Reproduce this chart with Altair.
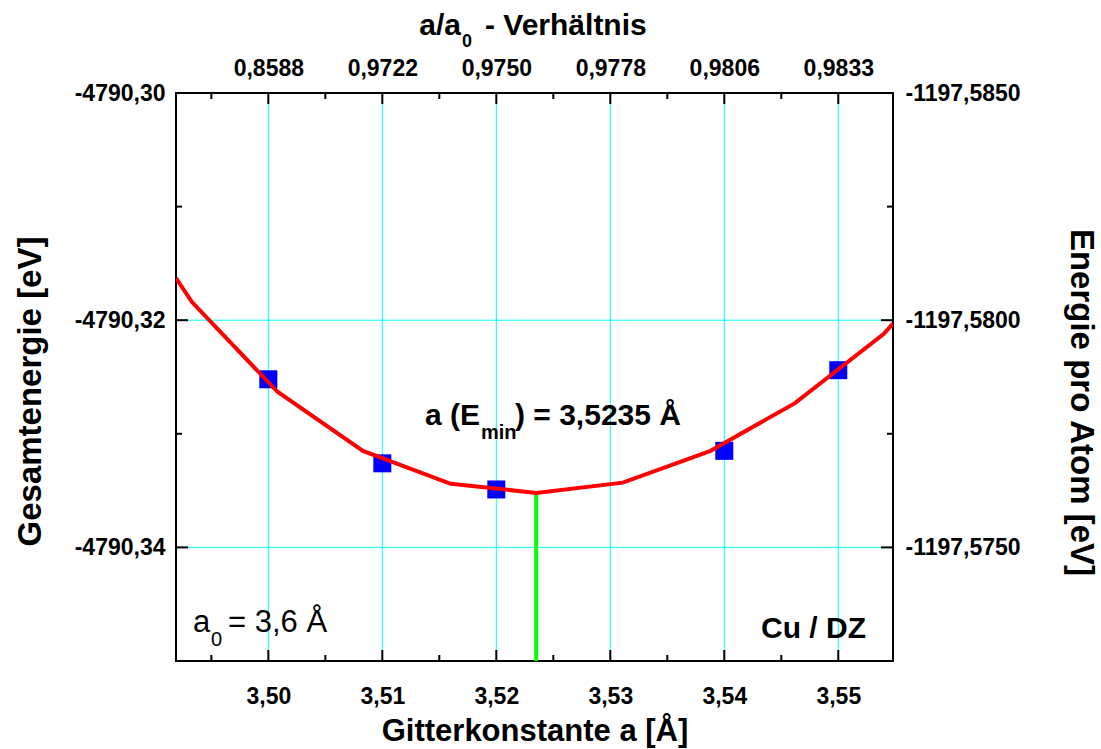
import altair as alt
import pandas as pd

# computed cells: lattice constant [Å] and total energy [eV]
lattice = [3.50, 3.51, 3.52, 3.54, 3.55]
energy = [-4790.3252, -4790.3326, -4790.3349, -4790.3315, -4790.3244]

# fitted energy curve (vertices)
fit_a = [3.4919, 3.4933, 3.5008, 3.5083, 3.5160, 3.5235, 3.5311, 3.5388, 3.5462, 3.5540, 3.5548]
fit_e = [-4790.3163, -4790.3184, -4790.3263, -4790.3315, -4790.3344, -4790.3352,
         -4790.3343, -4790.3315, -4790.3273, -4790.3212, -4790.3203]

# minimum of the fit
a_min = 3.5235
e_min = -4790.3352

# axis ticks and labels
x_major = [3.50, 3.51, 3.52, 3.53, 3.54, 3.55]
x_minor = [3.495, 3.505, 3.515, 3.525, 3.535, 3.545]
ratio_labels = ["0,8588", "0,9722", "0,9750", "0,9778", "0,9806", "0,9833"]
y_major = [-4790.34, -4790.32, -4790.30]
y_minor = [-4790.33, -4790.31]
atom_major = [-1197.5850, -1197.5800, -1197.5750]

x_domain = [3.4919, 3.5548]
y_domain = [-4790.35, -4790.30]
atom_domain = [-1197.5850, -1197.5725]

W, H = 717, 568
FONT = "Liberation Sans"
GRID = "#00ffff"

x_scale = alt.Scale(domain=x_domain, nice=False, zero=False)
y_scale = alt.Scale(domain=y_domain, nice=False, zero=False)
atom_scale = alt.Scale(domain=atom_domain, nice=False, zero=False, reverse=True)

common_axis = dict(
    ticks=False, tickSize=0, domain=False, grid=False, labelFont=FONT, labelFontWeight="bold",
    labelFontSize=23, labelColor="black", labelFlush=False, labelOverlap=False,
    titleFont=FONT, titleFontWeight="bold", titleColor="black",
)

bottom_axis = alt.Axis(
    orient="bottom", values=x_major,
    labelExpr="replace(format(datum.value, '.2f'), '.', ',')",
    labelBaseline="alphabetic", labelPadding=42,
    title="Gitterkonstante a [Å]", titleFontSize=31, titleX=W / 2, titleY=79,
    titleAlign="center", titleBaseline="alphabetic", **common_axis,
)
left_axis = alt.Axis(
    orient="left", values=y_major,
    labelExpr="'-' + replace(format(-datum.value, '.2f'), '.', ',')",
    labelPadding=11,
    title="Gesamtenergie [eV]", titleFontSize=33, titleAngle=270, titleX=-146, titleY=298,
    titleAlign="center", titleBaseline="middle", **common_axis,
)
ratio_array = "[" + ",".join("'" + s + "'" for s in ratio_labels) + "]"
top_axis = alt.Axis(
    orient="top", values=x_major,
    labelExpr=ratio_array + "[round((datum.value - 3.5) * 100)]",
    labelBaseline="alphabetic", labelPadding=18, title=None, **common_axis,
)
right_axis = alt.Axis(
    orient="right", values=atom_major,
    labelExpr="'-' + replace(format(-datum.value, '.4f'), '.', ',')",
    labelPadding=12,
    title="Energie pro Atom [eV]", titleFontSize=33, titleAngle=90, titleX=187, titleY=309,
    titleAlign="center", titleBaseline="middle", **common_axis,
)

pts_df = pd.DataFrame({"a": lattice, "E": energy})
fit_df = pd.DataFrame({"a": fit_a, "E": fit_e})
min_df = pd.DataFrame({"a": [a_min], "top": [e_min], "bottom": [y_domain[0]]})

# cyan grid lines at the interior major ticks (the top one lies on the frame)
grid_v = alt.Chart(pd.DataFrame({"v": x_major})).mark_rule(color=GRID, strokeWidth=1).encode(
    x=alt.X("v:Q", scale=x_scale, axis=None), y=alt.value(0), y2=alt.value(H))
grid_h = alt.Chart(pd.DataFrame({"v": y_major[:-1]})).mark_rule(color=GRID, strokeWidth=1).encode(
    y=alt.Y("v:Q", scale=y_scale, axis=None), x=alt.value(0), x2=alt.value(W))

points = alt.Chart(pts_df).mark_square(size=324, color="#0000ff", opacity=1).encode(
    x=alt.X("a:Q", scale=x_scale, axis=bottom_axis),
    y=alt.Y("E:Q", scale=y_scale, axis=left_axis),
)
fit_line = alt.Chart(fit_df).mark_line(color="#ff0000", strokeWidth=4, clip=True).encode(
    x=alt.X("a:Q", scale=x_scale, axis=None),
    y=alt.Y("E:Q", scale=y_scale, axis=None),
)
min_rule = alt.Chart(min_df).mark_rule(color="#00ff00", strokeWidth=4).encode(
    x=alt.X("a:Q", scale=x_scale, axis=None),
    y=alt.Y("top:Q", scale=y_scale, axis=None),
    y2="bottom:Q",
)

# per-atom energy axis (right) and a/a0 axis (top)
extra = alt.Chart(pd.DataFrame({"a": x_major[:3], "Ea": atom_major})).mark_point(opacity=0).encode(
    x=alt.X("a:Q", scale=x_scale, axis=top_axis),
    y=alt.Y("Ea:Q", scale=atom_scale, axis=right_axis),
)


def x_ticks(vals, y0, y1):
    return alt.Chart(pd.DataFrame({"v": vals})).mark_rule(color="black", strokeWidth=2).encode(
        x=alt.X("v:Q", scale=x_scale, axis=None), y=alt.value(y0), y2=alt.value(y1))


def y_ticks(vals, x0, x1):
    return alt.Chart(pd.DataFrame({"v": vals})).mark_rule(color="black", strokeWidth=2).encode(
        y=alt.Y("v:Q", scale=y_scale, axis=None), x=alt.value(x0), x2=alt.value(x1))


tick_layers = [
    x_ticks(x_major, H, H - 11), x_ticks(x_minor, H, H - 6),
    x_ticks(x_major, 0, 11), x_ticks(x_minor, 0, 6),
    y_ticks(y_major, 0, 12), y_ticks(y_minor, 0, 6),
    y_ticks(y_major, W, W - 12), y_ticks(y_minor, W, W - 6),
]


def label(text, x, y, size, align="left", weight="bold"):
    return alt.Chart(pd.DataFrame({"t": [text]})).mark_text(
        align=align, baseline="alphabetic", font=FONT, fontSize=size,
        fontWeight=weight, color="black",
    ).encode(text="t:N", x=alt.value(x), y=alt.value(y))


texts = [
    # top title  a/a0 - Verhältnis
    label("a/a", 285, -58, 30, align="right"),
    label("0", 286, -46, 18),
    label("- Verhältnis", 309, -58, 30),
    # minimum annotation
    label("a (E", 304, 332, 30, align="right"),
    label("min", 305, 346, 20),
    label(") = 3,5235 Å", 339, 332, 30),
    # reference lattice constant
    label("a", 17, 539, 31, weight="normal"),
    label("0", 35, 553, 20, weight="normal"),
    label("= 3,6 Å", 52, 539, 31, weight="normal"),
    # system
    label("Cu / DZ", 690, 545, 30, align="right"),
]

chart = (
    alt.layer(grid_v, grid_h, points, min_rule, fit_line, extra, *tick_layers, *texts)
    .resolve_scale(y="independent")
    .resolve_axis(x="independent", y="independent")
    .properties(
        width=W, height=H,
        autosize=alt.AutoSizeParams(type="none"),
        padding={"left": 176, "top": 93, "right": 1101 - 176 - W, "bottom": 749 - 93 - H},
        background="white",
    )
    .configure_view(stroke="black", strokeWidth=2)
)

chart.save("out.html", embed_options={"renderer": "svg", "actions": False})
